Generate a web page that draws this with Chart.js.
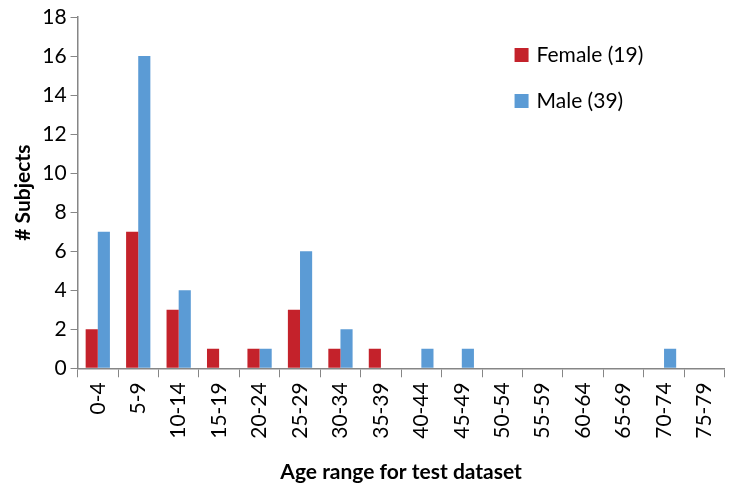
<!DOCTYPE html>
<html>
<head>
<meta charset="utf-8">
<script src="https://cdn.jsdelivr.net/npm/chart.js@4.4.0/dist/chart.umd.min.js"></script>
<style>
  html, body { margin: 0; padding: 0; background: #fff; }
  #wrap { width: 735px; height: 495px; }
</style>
</head>
<body>
<div id="wrap"><canvas id="ageChart" width="735" height="495"></canvas></div>
<script>
// Age ranges and subject counts
const ageRanges = ['0-4', '5-9', '10-14', '15-19', '20-24', '25-29', '30-34', '35-39',
  '40-44', '45-49', '50-54', '55-59', '60-64', '65-69', '70-74', '75-79'];
const femaleCounts = [2, 7, 3, 1, 1, 3, 1, 1, 0, 0, 0, 0, 0, 0, 0, 0];
const maleCounts = [7, 16, 4, 0, 1, 6, 2, 0, 1, 1, 0, 0, 0, 0, 1, 0];
const yTicks = [0, 2, 4, 6, 8, 10, 12, 14, 16, 18];

const fontFamily = 'Lato, "Open Sans", sans-serif';

// Legend drawn inside the plot area (top right)
const innerLegend = {
  id: 'innerLegend',
  afterDraw(chart) {
    const ctx = chart.ctx;
    const area = chart.chartArea;
    ctx.save();
    ctx.font = '21px ' + fontFamily;
    ctx.textBaseline = 'middle';
    chart.data.datasets.forEach((ds, i) => {
      const x = area.left + 437;
      const y = area.top + 38 + i * 46;
      ctx.fillStyle = ds.backgroundColor;
      ctx.fillRect(x, y - 7, 14, 14);
      ctx.fillStyle = '#000';
      ctx.fillText(ds.label, x + 22, y);
    });
    ctx.restore();
  }
};

new Chart(document.getElementById('ageChart').getContext('2d'), {
  type: 'bar',
  data: {
    labels: ageRanges,
    datasets: [
      { label: 'Female (19)', data: femaleCounts, backgroundColor: '#C4222B' },
      { label: 'Male (39)', data: maleCounts, backgroundColor: '#5B9BD5' }
    ]
  },
  options: {
    responsive: false,
    animation: false,
    layout: { padding: { top: 17, right: 10, left: 7, bottom: 6 } },
    datasets: { bar: { categoryPercentage: 0.6, barPercentage: 1.0 } },
    plugins: {
      legend: { display: false },
      tooltip: { enabled: false }
    },
    scales: {
      x: {
        grid: { display: true, drawOnChartArea: false, offset: true, tickLength: 9, color: '#868686' },
        border: { color: '#868686', width: 1.5 },
        ticks: { color: '#000', font: { family: fontFamily, size: 21 }, maxRotation: 90, minRotation: 90, padding: 5 },
        title: { display: true, text: 'Age range for test dataset', color: '#000', font: { family: fontFamily, size: 21, weight: 'bold' }, padding: { top: 16 } }
      },
      y: {
        min: 0,
        max: 18,
        afterBuildTicks: (axis) => { axis.ticks = yTicks.map(v => ({ value: v })); },
        grid: { display: true, drawOnChartArea: false, tickLength: 7, color: '#868686' },
        border: { color: '#868686', width: 1.5 },
        ticks: { color: '#000', font: { family: fontFamily, size: 21 }, padding: 4 },
        title: { display: true, text: '# Subjects', color: '#000', font: { family: fontFamily, size: 21, weight: 'bold' }, padding: { bottom: 2 } }
      }
    }
  },
  plugins: [innerLegend]
});
</script>
</body>
</html>
